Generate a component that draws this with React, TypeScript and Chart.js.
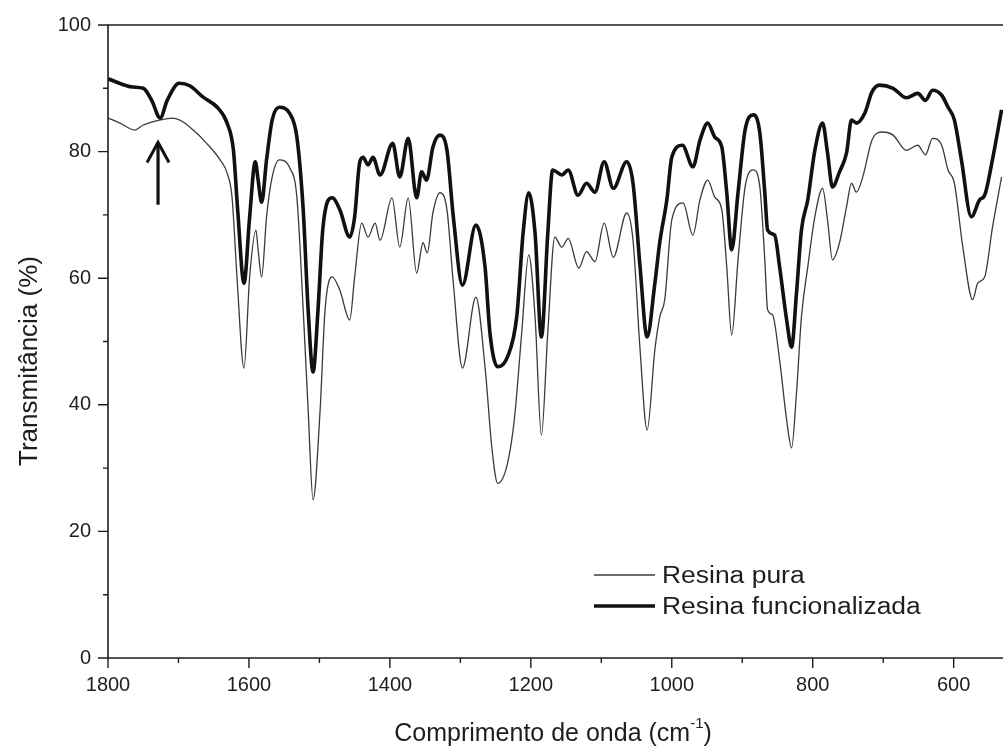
import React, { useEffect, useRef } from "react";
import { Chart, registerables } from "chart.js";

Chart.register(...registerables);

// ---- Data (wavenumber in cm-1, transmittance in %) ----
const pureWavenumbers = [
  1800, 1783, 1762, 1750, 1726, 1709, 1695, 1679, 1660, 1641, 1631, 1624, 1617, 1607, 1599, 1590,
  1587, 1582, 1575, 1567, 1557, 1542, 1532, 1523, 1516, 1509, 1499, 1492, 1482, 1471, 1457, 1450,
  1440, 1431, 1421, 1414, 1397, 1386, 1374, 1362, 1353, 1347, 1339, 1329, 1319, 1310, 1297, 1278,
  1265, 1255, 1247, 1233, 1223, 1213, 1203, 1194, 1185, 1176, 1166, 1156, 1147, 1132, 1121, 1109,
  1096, 1083, 1064, 1055, 1045, 1035, 1024, 1017, 1010, 1000, 984, 970, 960, 949, 939, 929,
  922, 915, 906, 896, 884, 875, 868, 864, 857, 847, 837, 830, 823, 816, 807, 797,
  786, 779, 772, 762, 752, 745, 738, 729, 716, 701, 686, 667, 651, 640, 630, 617,
  608, 599, 587, 573, 566, 556, 545, 532,
];
const pureTransmittance = [
  85.3, 84.5, 83.4, 84.2, 85.0, 85.3, 84.8, 83.4, 81.3, 78.7, 76.6, 72.8, 60.2, 45.8, 60.2, 67.6,
  64.5, 60.2, 69.7, 76.0, 78.7, 77.4, 72.8, 55.0, 39.2, 25.0, 39.2, 55.0, 60.2, 58.1, 53.4, 60.2,
  68.7, 66.5, 68.7, 66.0, 72.7, 64.9, 72.7, 60.8, 65.6, 64.0, 70.3, 73.5, 70.8, 59.2, 45.8, 57.0,
  46.0, 32.9, 27.6, 30.8, 38.1, 51.3, 63.7, 53.9, 35.2, 51.3, 66.5, 64.9, 66.3, 61.6, 64.2, 62.6,
  68.7, 63.3, 70.3, 66.0, 48.7, 36.0, 48.7, 53.9, 56.6, 69.2, 71.9, 66.8, 72.4, 75.5, 72.8, 70.8,
  61.8, 51.0, 62.9, 74.4, 77.1, 74.4, 62.9, 55.0, 54.2, 47.1, 37.6, 33.2, 41.9, 53.9, 61.8, 69.7,
  74.2, 69.2, 62.9, 65.6, 71.3, 75.0, 73.6, 76.0, 81.8, 83.1, 82.6, 80.2, 81.0, 79.5, 82.1, 81.0,
  77.1, 75.0, 64.9, 56.6, 59.2, 60.2, 68.0, 76.0,
];

const funcWavenumbers = [
  1800, 1765, 1750, 1738, 1726, 1716, 1699, 1684, 1665, 1645, 1631, 1622, 1616, 1607, 1599, 1591,
  1587, 1582, 1575, 1567, 1557, 1542, 1532, 1523, 1516, 1509, 1502, 1495, 1482, 1471, 1457, 1450,
  1443, 1438, 1431, 1424, 1414, 1396, 1386, 1374, 1362, 1355, 1348, 1339, 1329, 1319, 1310, 1297,
  1278, 1265, 1258, 1247, 1233, 1220, 1211, 1203, 1194, 1185, 1176, 1169, 1156, 1147, 1133, 1121,
  1109, 1096, 1083, 1064, 1055, 1045, 1035, 1024, 1017, 1007, 1000, 985, 970, 960, 949, 939,
  929, 922, 915, 906, 896, 884, 875, 868, 864, 854, 847, 837, 830, 823, 816, 807,
  797, 786, 779, 772, 762, 752, 745, 738, 726, 716, 705, 686, 667, 651, 640, 630,
  617, 608, 599, 589, 575, 563, 556, 545, 532,
];
const funcTransmittance = [
  91.5, 90.2, 90.0, 88.1, 85.3, 88.1, 90.8, 90.4, 88.6, 87.0, 84.5, 80.2, 70.8, 59.2, 69.7, 78.4,
  75.5, 72.0, 78.7, 85.0, 87.0, 86.0, 82.3, 70.8, 55.0, 45.2, 55.0, 68.0, 72.7, 70.8, 66.5, 69.7,
  78.2, 79.1, 77.9, 79.1, 76.3, 81.3, 76.0, 82.1, 72.7, 76.8, 75.5, 80.7, 82.6, 80.2, 69.7, 58.9,
  68.4, 61.8, 51.3, 46.0, 47.6, 53.9, 67.1, 73.5, 67.1, 50.7, 67.0, 77.1, 76.3, 77.1, 73.1, 75.0,
  73.6, 78.4, 74.2, 78.4, 75.0, 61.8, 50.7, 59.2, 65.7, 72.4, 79.1, 81.0, 77.6, 81.8, 84.5, 82.3,
  80.7, 73.5, 64.5, 73.5, 83.4, 85.8, 82.9, 73.5, 67.6, 66.8, 61.8, 53.4, 49.1, 57.7, 67.6, 72.4,
  80.2, 84.5, 79.8, 74.4, 76.8, 79.8, 85.0, 84.5, 86.1, 89.4, 90.5, 90.0, 88.5, 89.2, 88.1, 89.7,
  88.9, 87.0, 85.0, 78.7, 69.7, 72.4, 73.1, 78.7, 86.6,
];

const seriesLabels = ["Resina pura", "Resina funcionalizada"];
const xTickValues = [1800, 1700, 1600, 1500, 1400, 1300, 1200, 1100, 1000, 900, 800, 700, 600];
const yTickValues = [0, 10, 20, 30, 40, 50, 60, 70, 80, 90, 100];
const xRange = [530, 1800];
const yRange = [0, 100];
const xTitleMain = "Comprimento de onda (cm";
const xTitleSup = "-1";
const xTitleEnd = ")";
const yTitle = "Transmitância (%)";
// arrow marking the band near 1730 cm-1
const arrowWavenumber = 1729;
const arrowTipValue = 81.6;
const arrowTailValue = 71.6;

const FONT = "'Liberation Sans', Arial, Helvetica, sans-serif";
const INK = "#1e1e1e";

const framePlugin = {
  id: "frame",
  afterDraw(chart: any) {
    const ctx = chart.ctx;
    const area = chart.chartArea;
    const xs = chart.scales.x;
    const ys = chart.scales.y;
    ctx.save();
    ctx.strokeStyle = INK;
    ctx.fillStyle = INK;
    ctx.lineWidth = 1.6;
    ctx.lineCap = "butt";
    // axes: left, bottom, top
    ctx.beginPath();
    ctx.moveTo(area.left, area.top);
    ctx.lineTo(area.left, area.bottom);
    ctx.moveTo(area.left - 0.8, area.bottom);
    ctx.lineTo(chart.width, area.bottom);
    ctx.moveTo(area.left - 0.8, area.top);
    ctx.lineTo(chart.width, area.top);
    ctx.stroke();
    // ticks
    ctx.lineWidth = 1.4;
    ctx.beginPath();
    yTickValues.forEach((v) => {
      const py = ys.getPixelForValue(v);
      const len = v % 20 === 0 ? 10 : 5;
      ctx.moveTo(area.left, py);
      ctx.lineTo(area.left - len, py);
    });
    xTickValues.forEach((v) => {
      const px = xs.getPixelForValue(v);
      const len = v % 200 === 0 ? 10 : 5;
      ctx.moveTo(px, area.bottom);
      ctx.lineTo(px, area.bottom + len);
    });
    ctx.stroke();

    // arrow
    const ax = xs.getPixelForValue(arrowWavenumber);
    const tipY = ys.getPixelForValue(arrowTipValue);
    const tailY = ys.getPixelForValue(arrowTailValue);
    ctx.strokeStyle = "#111";
    ctx.lineWidth = 3.2;
    ctx.beginPath();
    ctx.moveTo(ax, tailY);
    ctx.lineTo(ax, tipY + 2);
    ctx.stroke();
    ctx.lineWidth = 3;
    ctx.lineJoin = "miter";
    ctx.beginPath();
    ctx.moveTo(ax - 11, tipY + 21);
    ctx.lineTo(ax, tipY + 1);
    ctx.lineTo(ax + 11, tipY + 21);
    ctx.stroke();

    // legend
    const legendLineX0 = 594;
    const legendLineX1 = 655;
    const rows = [
      { y: 575, w: 1.3, label: seriesLabels[0], color: "#3a3a3a" },
      { y: 606, w: 3.6, label: seriesLabels[1], color: "#111" },
    ];
    rows.forEach((r) => {
      ctx.strokeStyle = r.color;
      ctx.lineWidth = r.w;
      ctx.beginPath();
      ctx.moveTo(legendLineX0, r.y);
      ctx.lineTo(legendLineX1, r.y);
      ctx.stroke();
      ctx.save();
      ctx.translate(662, r.y + 8);
      ctx.scale(1.15, 1);
      ctx.font = `23px ${FONT}`;
      ctx.fillStyle = INK;
      ctx.textAlign = "left";
      ctx.textBaseline = "alphabetic";
      ctx.fillText(r.label, 0, 0);
      ctx.restore();
    });

    // x title with superscript
    ctx.fillStyle = INK;
    ctx.textBaseline = "alphabetic";
    ctx.textAlign = "left";
    const mainFont = `25px ${FONT}`;
    const supFont = `15px ${FONT}`;
    ctx.font = mainFont;
    const wMain = ctx.measureText(xTitleMain).width;
    const wEnd = ctx.measureText(xTitleEnd).width;
    ctx.font = supFont;
    const wSup = ctx.measureText(xTitleSup).width;
    const total = wMain + wSup + wEnd;
    let tx = 553 - total / 2;
    const baseY = 741;
    ctx.font = mainFont;
    ctx.fillText(xTitleMain, tx, baseY);
    tx += wMain;
    ctx.font = supFont;
    ctx.fillText(xTitleSup, tx, baseY - 13);
    tx += wSup;
    ctx.font = mainFont;
    ctx.fillText(xTitleEnd, tx, baseY);

    // y title
    ctx.save();
    ctx.translate(37, 361);
    ctx.rotate(-Math.PI / 2);
    ctx.font = `26px ${FONT}`;
    ctx.textAlign = "center";
    ctx.fillText(yTitle, 0, 0);
    ctx.restore();

    ctx.restore();
  },
};

export default function App() {
  const canvasRef = useRef<HTMLCanvasElement | null>(null);

  useEffect(() => {
    if (!canvasRef.current) return;
    const chart = new Chart(canvasRef.current, {
      type: "line",
      data: {
        datasets: [
          {
            label: seriesLabels[1],
            data: funcWavenumbers.map((x, i) => ({ x, y: funcTransmittance[i] })),
            borderColor: "#111111",
            borderWidth: 3.6,
            pointRadius: 0,
            fill: false,
            cubicInterpolationMode: "monotone",
          },
          {
            label: seriesLabels[0],
            data: pureWavenumbers.map((x, i) => ({ x, y: pureTransmittance[i] })),
            borderColor: "#3a3a3a",
            borderWidth: 1.3,
            pointRadius: 0,
            fill: false,
            cubicInterpolationMode: "monotone",
          },
        ],
      },
      options: {
        responsive: false,
        animation: false,
        layout: { padding: { top: 25, right: 0, left: 0, bottom: 0 } },
        plugins: {
          legend: { display: false },
          tooltip: { enabled: false },
        },
        scales: {
          x: {
            type: "linear",
            reverse: true,
            min: xRange[0],
            max: xRange[1],
            grid: { display: false, drawTicks: false },
            border: { display: false },
            afterBuildTicks: (scale: any) => {
              scale.ticks = xTickValues.slice().reverse().map((v) => ({ value: v }));
            },
            afterFit: (scale: any) => {
              scale.height = 88;
              scale.paddingLeft = 0;
              scale.paddingRight = 0;
            },
            ticks: {
              autoSkip: false,
              maxRotation: 0,
              padding: 15,
              color: INK,
              font: { family: FONT, size: 20 },
              callback: (v: any) => (Number(v) % 200 === 0 ? String(v) : ""),
            },
          },
          y: {
            type: "linear",
            min: yRange[0],
            max: yRange[1],
            grid: { display: false, drawTicks: false },
            border: { display: false },
            afterBuildTicks: (scale: any) => {
              scale.ticks = yTickValues.map((v) => ({ value: v }));
            },
            afterFit: (scale: any) => {
              scale.width = 108;
              scale.paddingTop = 0;
              scale.paddingBottom = 0;
            },
            ticks: {
              autoSkip: false,
              padding: 17,
              color: INK,
              font: { family: FONT, size: 20 },
              callback: (v: any) => (Number(v) % 20 === 0 ? String(v) : ""),
            },
          },
        },
      },
      plugins: [framePlugin],
    } as any);
    return () => chart.destroy();
  }, []);

  return (
    <div style={{ position: "fixed", left: 0, top: 0, width: 1003, height: 746, background: "#fff" }}>
      <canvas ref={canvasRef} width={1003} height={746} style={{ display: "block" }} />
    </div>
  );
}
